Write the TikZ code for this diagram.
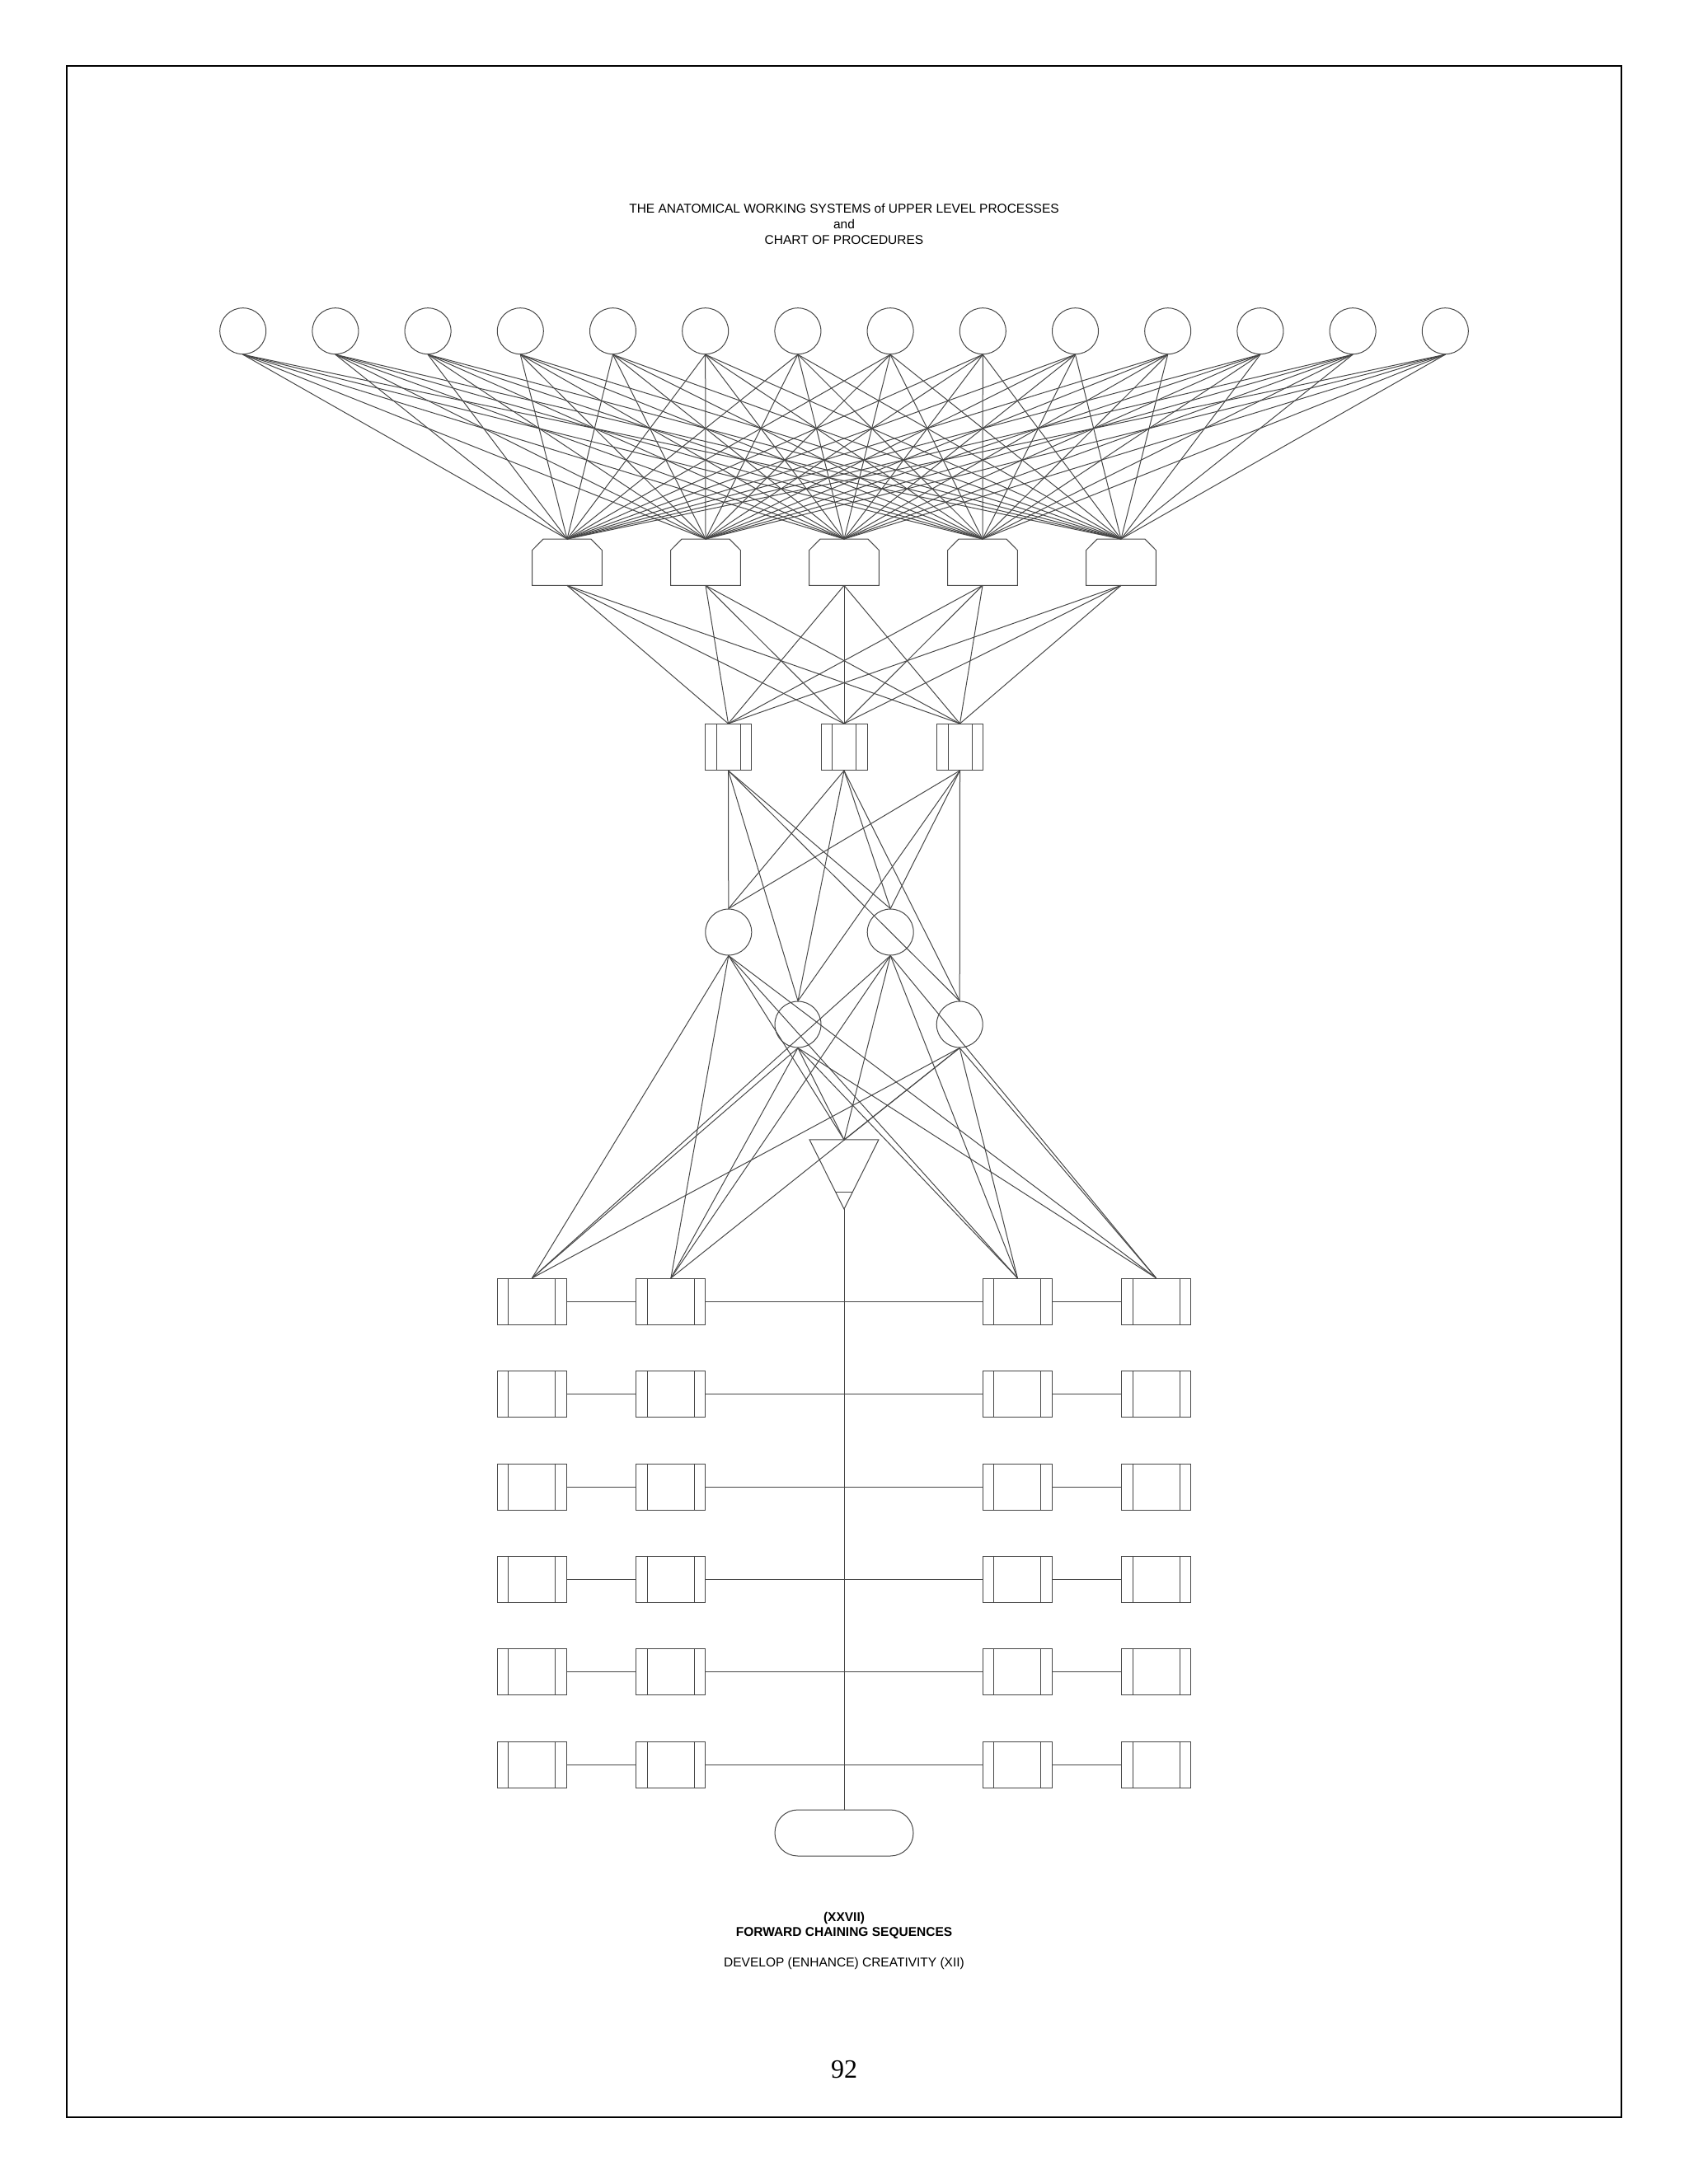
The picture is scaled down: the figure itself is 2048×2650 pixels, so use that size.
\documentclass[tikz,border=0pt]{standalone}
\usepackage{fontspec}
\setmainfont{Liberation Sans}
\newfontfamily\serifnum{Liberation Serif}
\begin{document}
\begin{tikzpicture}[x=1pt,y=-1pt,
  ln/.style={draw=black!72,line width=1pt},
  circ/.style={circle,draw=black!72,line width=1pt,minimum size=56pt,inner sep=0pt},
  pbox/.style={rectangle,draw=none,minimum width=84.5pt,minimum height=56pt,inner sep=0pt},
  tbox/.style={rectangle,draw=black!72,line width=1pt,minimum width=56pt,minimum height=56pt,inner sep=0pt},
  bbox/.style={rectangle,draw=black!72,line width=1pt,minimum width=84pt,minimum height=56pt,inner sep=0pt},
  tribox/.style={rectangle,draw=none,minimum width=83.4pt,minimum height=83.7pt,inner sep=0pt},
  termbox/.style={rectangle,draw=black!72,line width=1pt,rounded corners=27.9pt,minimum width=168pt,minimum height=56pt,inner sep=0pt},
  txt/.style={inner sep=0pt,anchor=base,font=\fontsize{15.5}{18}\selectfont}
]
\useasboundingbox (0,0) rectangle (2048,2650);
% frame
\draw[line width=2pt] (80.5,80) rectangle (1967,2568.5);
% title
\node[txt] (title1) at (1024,258.9) {THE ANATOMICAL WORKING SYSTEMS of UPPER LEVEL PROCESSES};
\node[txt] (title2) at (1024,277.6) {and};
\node[txt] (title3) at (1024,296.3) {CHART OF PROCEDURES};
% top circles
\foreach \i in {0,...,13} \node[circ] (t\i) at ({1024+(\i-6.5)*112.2},401.7) {};
% pentagons
\foreach \j in {0,...,4} {
  \node[pbox] (p\j) at ({1024+(\j-2)*168},682.2) {};
  \draw[ln] ([xshift=13.5pt]p\j.north west) -- ([xshift=-13.5pt]p\j.north east)
    -- ([yshift=-13.7pt]p\j.north east) -- (p\j.south east) -- (p\j.south west)
    -- ([yshift=-13.7pt]p\j.north west) -- cycle;
}
% three-bar boxes
\foreach \k in {0,1,2} {
  \node[tbox] (m\k) at ({1024+(\k-1)*140.5},906.5) {};
  \draw[ln] ([xshift=14pt]m\k.north west) -- ([xshift=14pt]m\k.south west);
  \draw[ln] ([xshift=-14pt]m\k.north east) -- ([xshift=-14pt]m\k.south east);
}
% middle circles
\node[circ] (A) at (883.8,1131) {};
\node[circ] (B) at (1080.2,1131) {};
\node[circ] (C) at (968,1243) {};
\node[circ] (D) at (1164.2,1243) {};
% triangle
\node[tribox] (tri) at (1024,1425) {};
\draw[ln] (tri.north west) -- (tri.north east) -- (tri.south) -- cycle;
\draw[ln] ([xshift=-10.4pt,yshift=21pt]tri.south) -- ([xshift=10.4pt,yshift=21pt]tri.south);
% bottom boxes
\foreach \r in {0,...,5} {
  \foreach \c/\x in {0/645.4,1/813.9,2/1234.4,3/1402.6} {
    \node[bbox] (r\r c\c) at (\x,{1579.3+\r*112.35}) {};
    \draw[ln] ([xshift=14pt]r\r c\c.north west) -- ([xshift=14pt]r\r c\c.south west);
    \draw[ln] ([xshift=-14pt]r\r c\c.north east) -- ([xshift=-14pt]r\r c\c.south east);
  }
  \draw[ln] (r\r c0.east) -- (r\r c1.west);
  \draw[ln] (r\r c1.east) -- (r\r c2.west);
  \draw[ln] (r\r c2.east) -- (r\r c3.west);
}
% terminal
\node[termbox] (term) at (1024,2224) {};
% connectors
\foreach \i in {0,...,13} \foreach \j in {0,...,4} \draw[ln] (t\i.south) -- (p\j.north);
\foreach \j in {0,...,4} \foreach \k in {0,1,2} \draw[ln] (p\j.south) -- (m\k.north);
\foreach \k in {0,1,2} \foreach \m in {A,B,C,D} \draw[ln] (m\k.south) -- (\m.north);
\foreach \m in {A,B,C,D} \foreach \t in {tri,r0c0,r0c1,r0c2,r0c3} \draw[ln] (\m.south) -- (\t.north);
\draw[ln] (tri.south) -- (term.north);
% bottom texts
\node[txt,font=\fontsize{15.5}{18}\selectfont\bfseries] (num) at (1024,2331.2) {(XXVII)};
\node[txt,font=\fontsize{15.5}{18}\selectfont\bfseries] (fwd) at (1024,2349.2) {FORWARD CHAINING SEQUENCES};
\node[txt] (dev) at (1024,2386.5) {DEVELOP (ENHANCE) CREATIVITY (XII)};
\node[inner sep=0pt,anchor=base,font=\serifnum\fontsize{32}{36}\selectfont] (page) at (1024,2521.8) {92};
\end{tikzpicture}
\end{document}
